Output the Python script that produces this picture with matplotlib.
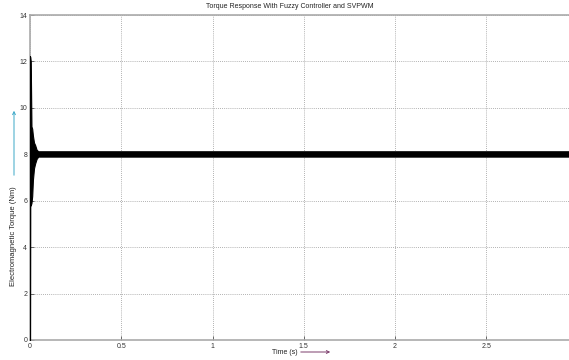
import matplotlib
matplotlib.use("Agg")
import matplotlib.pyplot as plt

# Data
# transient + steady-state envelope of the torque trace (Nm)
env_t     = [0.0, 0.001, 0.004, 0.008, 0.012, 0.016, 0.022, 0.028, 0.036, 0.045, 2.953]
env_upper = [12.2, 12.2, 12.0, 9.2, 9.1, 8.8, 8.5, 8.4, 8.2, 8.13, 8.13]
env_lower = [0.0, 5.8, 5.8, 5.9, 6.2, 6.9, 7.4, 7.6, 7.8, 7.9, 7.9]
spike_t = [0.0, 0.0]
spike_v = [0.0, 12.2]

xticks = [0, 0.5, 1, 1.5, 2, 2.5]
xticklabels = ["0", "0.5", "1", "1.5", "2", "2.5"]
yticks = [0, 2, 4, 6, 8, 10, 12, 14]
yticklabels = ["0", "2", "4", "6", "8", "10", "12", "14"]

title = "Torque Response With Fuzzy Controller and SVPWM"
xlabel = "Time (s)"
ylabel = "Electromagnetic Torque (Nm)"

plt.rcParams['font.family'] = ['Liberation Sans', 'DejaVu Sans']

fig = plt.figure(figsize=(5.69, 3.6), dpi=100)
W, H = 569, 360
ax = fig.add_axes([30 / W, 20 / H, (569 - 30) / W, (340 - 15) / H])

ax.fill_between(env_t, env_lower, env_upper, color="black", linewidth=0.8,
                edgecolor="black", zorder=3)
ax.plot(spike_t, spike_v, color="black", linewidth=1.5, zorder=3)

ax.set_xlim(0, 2.953)
ax.set_ylim(0, 14)
ax.set_xticks(xticks)
ax.set_xticklabels(xticklabels)
ax.set_yticks(yticks)
ax.set_yticklabels(yticklabels)
ax.tick_params(axis="both", direction="in", labelsize=5, length=3, width=0.6,
               color="#555555", labelcolor="#333333", pad=2)
ax.grid(True, linestyle=(0, (1, 1.5)), color="#999999", linewidth=0.6, zorder=1)
for side in ["top", "left", "bottom"]:
    ax.spines[side].set_color("#aaaaaa")
    ax.spines[side].set_linewidth(1.2)
ax.spines["right"].set_visible(False)

# title
fig.text(290 / W, 1 - 7 / H, title, ha="center", va="center", fontsize=5, color="#222222")

# y label with cyan arrow
fig.text(14 / W, 1 - 236 / H, ylabel, rotation=90, ha="center", va="center",
         fontsize=5.5, color="#222222")
fig.add_artist(matplotlib.patches.FancyArrowPatch(
    (14 / W, 1 - 178 / H), (14 / W, 1 - 108 / H), transform=fig.transFigure,
    arrowstyle="->", mutation_scale=5, color="#3aa7c7", linewidth=0.7))

# x label with purple arrow
fig.text(285 / W, 1 - 352 / H, xlabel, ha="center", va="center", fontsize=5, color="#222222")
fig.add_artist(matplotlib.patches.FancyArrowPatch(
    (298 / W, 1 - 352 / H), (333 / W, 1 - 352 / H), transform=fig.transFigure,
    arrowstyle="->", mutation_scale=5, color="#7a3a6a", linewidth=0.7))

fig.savefig("out.png", dpi=100, facecolor="white")
